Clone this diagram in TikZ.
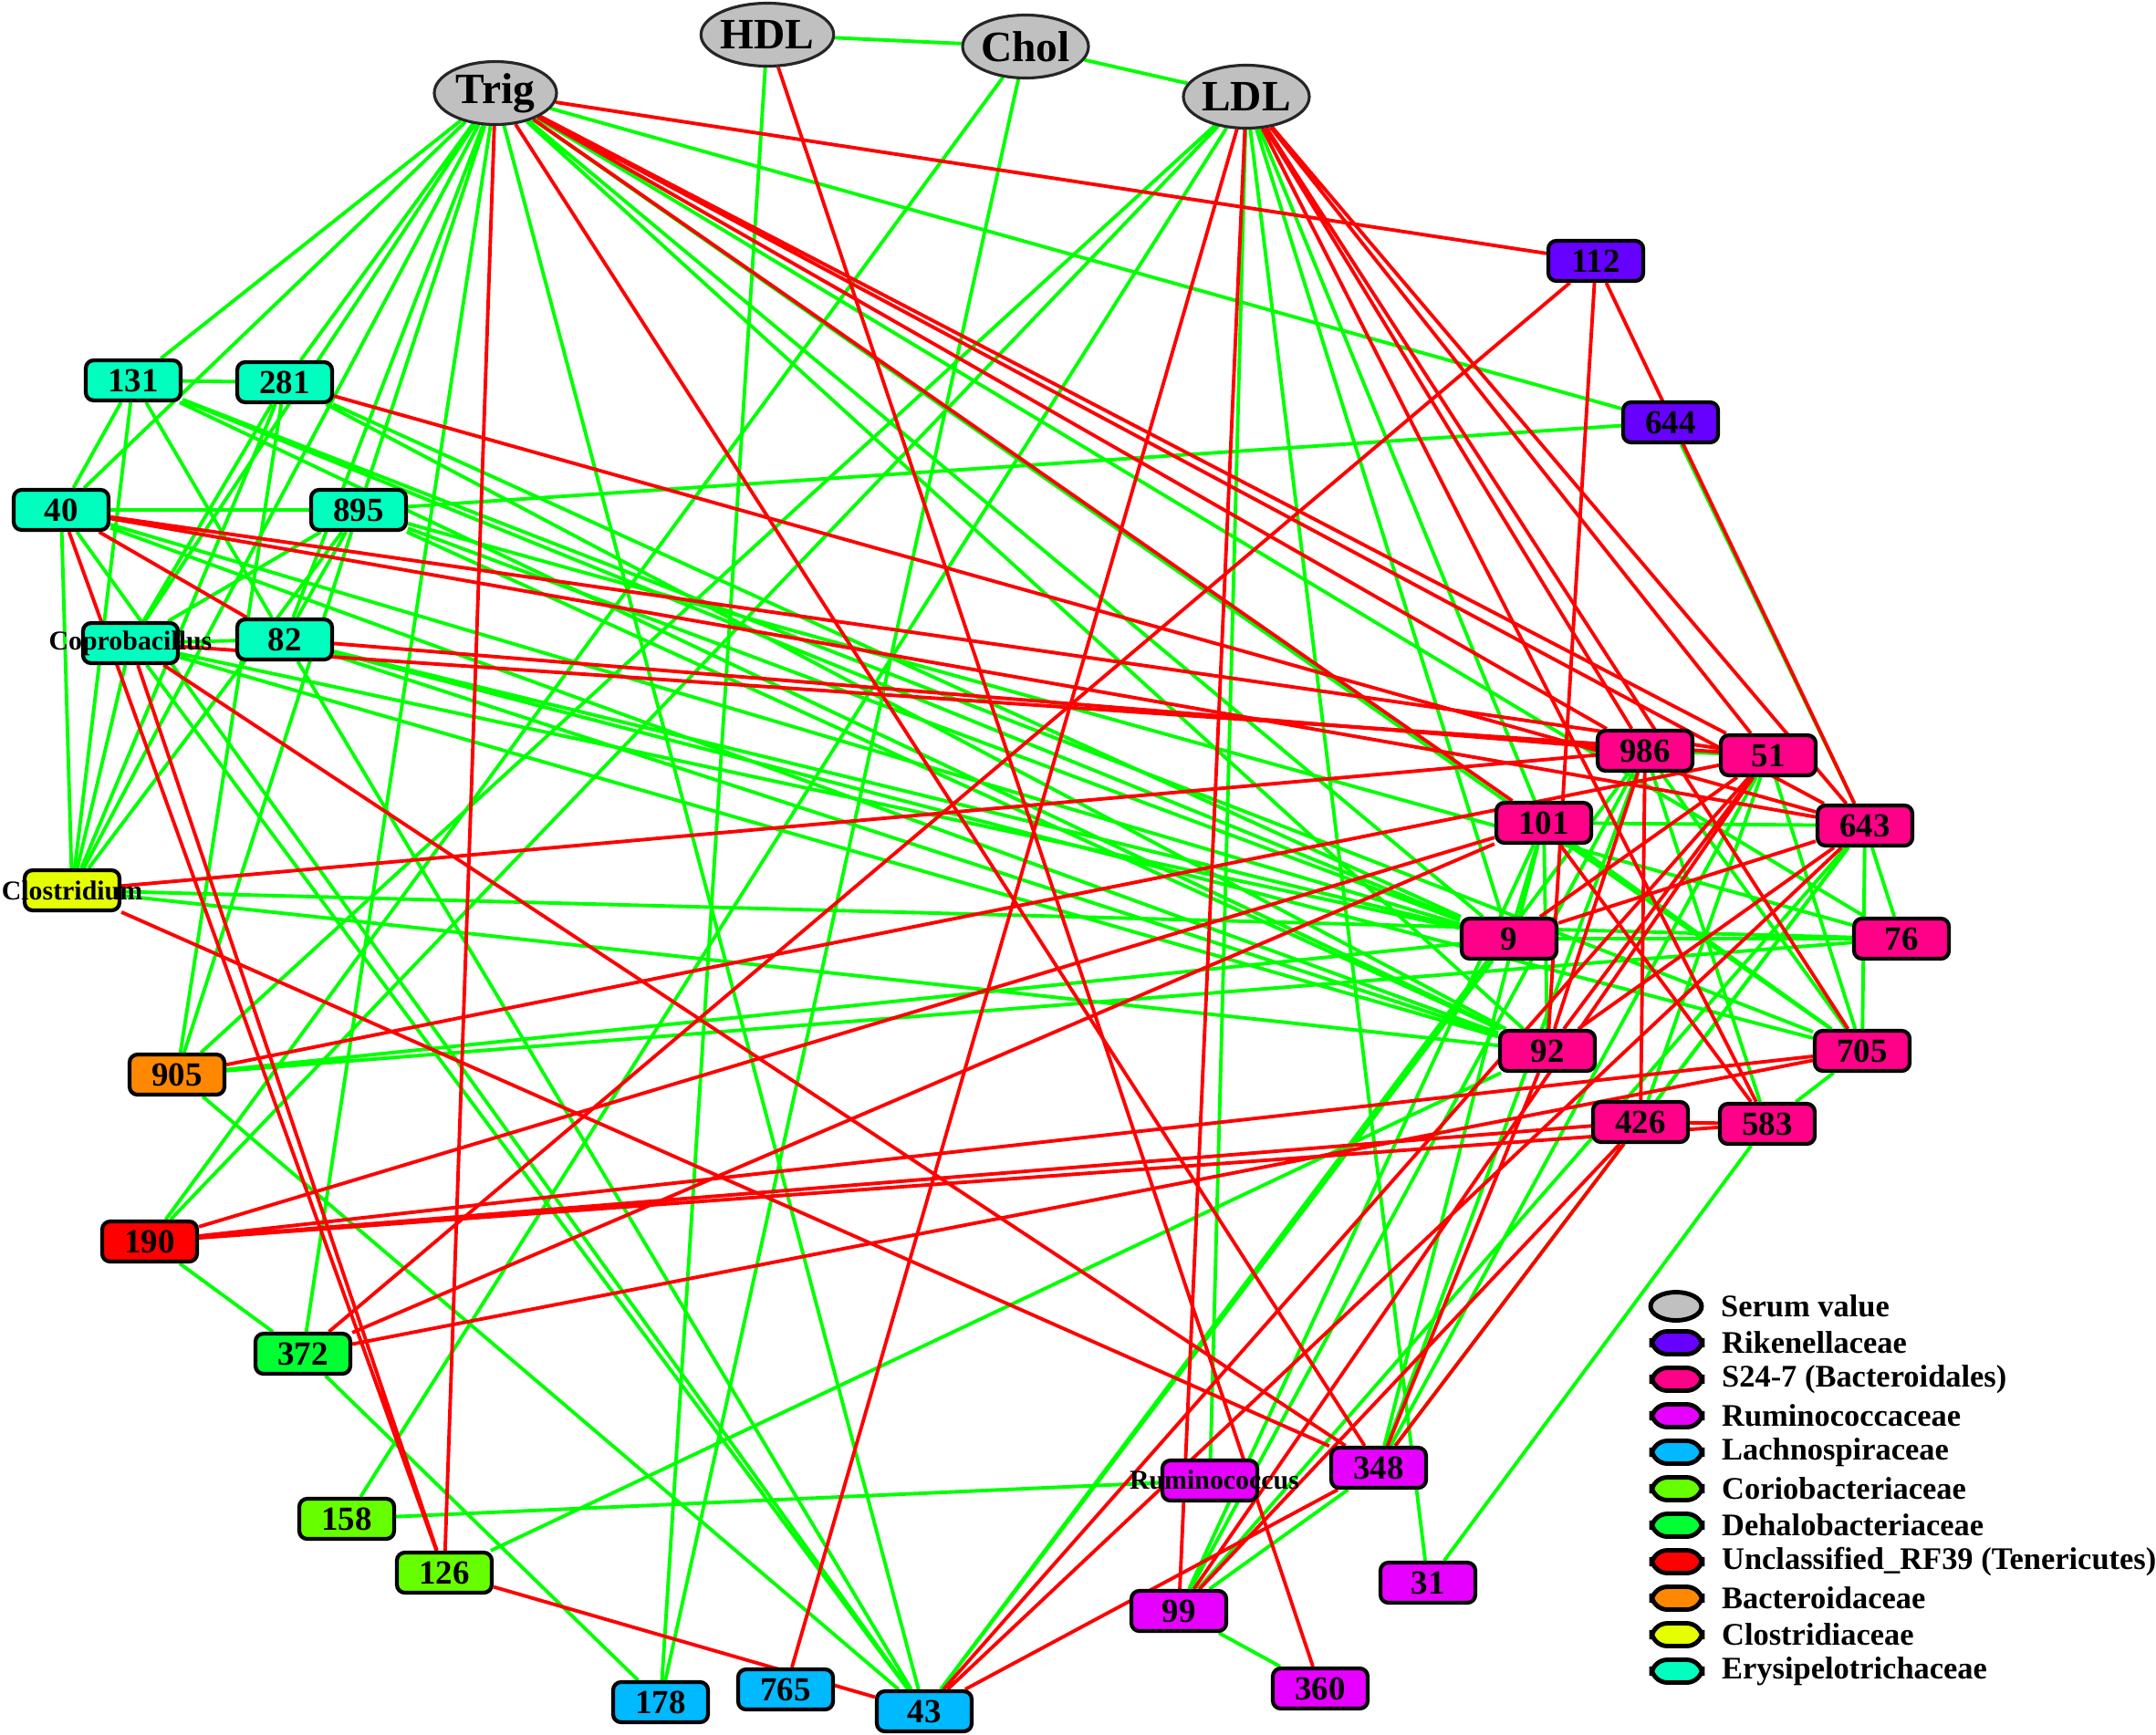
\documentclass[tikz,border=0pt]{standalone}
\usepackage{fontspec}
\setmainfont{Liberation Serif}
\usetikzlibrary{shapes.geometric,backgrounds,positioning}

\definecolor{serumgray}{RGB}{192,192,192}
\definecolor{rikc}{RGB}{102,0,255}
\definecolor{s24c}{RGB}{255,0,136}
\definecolor{rumc}{RGB}{230,0,255}
\definecolor{lachc}{RGB}{0,185,255}
\definecolor{corioc}{RGB}{102,255,0}
\definecolor{dehaloc}{RGB}{0,255,51}
\definecolor{rfc}{RGB}{255,0,0}
\definecolor{bactc}{RGB}{255,136,0}
\definecolor{closc}{RGB}{230,255,0}
\definecolor{eryc}{RGB}{0,255,191}
\definecolor{posgreen}{RGB}{0,255,0}
\definecolor{negred}{RGB}{255,0,0}

\begin{document}
\begin{tikzpicture}[
    box/.style={draw=black, line width=1.2pt, rounded corners=2.5pt, minimum width=1.04cm, minimum height=0.44cm, inner sep=0pt, font=\fontsize{10.5}{11}\selectfont\bfseries},
    serum/.style={ellipse, draw=black!85, line width=0.9pt, fill=serumgray, minimum width=1.34cm, minimum height=0.69cm, inner sep=0pt, font=\fontsize{13.5}{14}\selectfont\bfseries},
    genus/.style={inner sep=0pt, font=\fontsize{8.5}{9}\selectfont\bfseries},
    posedge/.style={draw=posgreen, line width=1.1pt},
    negedge/.style={draw=negred, line width=1.1pt},
    keybox/.style={draw=black, line width=1.4pt, rounded corners=5pt, minimum width=0.56cm, minimum height=0.25cm, inner sep=0pt},
    keytext/.style={inner sep=0pt, font=\fontsize{9.8}{10}\selectfont\bfseries}
]
    \useasboundingbox (0,0) rectangle (23.63,-19.02);

    % serum values
    \node[serum] (Trig) at (5.43,-1.02) {Trig};
    \node[serum] (HDL) at (8.41,-0.38) {HDL};
    \node[serum] (Chol) at (11.24,-0.51) {Chol};
    \node[serum] (LDL) at (13.66,-1.06) {LDL};

    % OTUs
    \node[box, fill=rikc] (o112) at (17.49,-2.86) {112};
    \node[box, fill=rikc] (o644) at (18.31,-4.63) {644};
    \node[box, fill=eryc] (o131) at (1.46,-4.17) {131};
    \node[box, fill=eryc] (o281) at (3.12,-4.19) {281};
    \node[box, fill=eryc] (o40) at (0.67,-5.59) {40};
    \node[box, fill=eryc] (o895) at (3.93,-5.59) {895};
    \node[box, fill=eryc] (copro) at (1.43,-7.05) {};
    \node[genus] (coprolab) at (copro) {Coprobacillus};
    \node[box, fill=eryc] (o82) at (3.12,-7.01) {82};
    \node[box, fill=closc] (clos) at (0.79,-9.76) {};
    \node[genus] (closlab) at (clos) {Clostridium};
    \node[box, fill=bactc] (o905) at (1.94,-11.78) {905};
    \node[box, fill=rfc] (o190) at (1.64,-13.61) {190};
    \node[box, fill=dehaloc] (o372) at (3.32,-14.84) {372};
    \node[box, fill=corioc] (o158) at (3.80,-16.65) {158};
    \node[box, fill=corioc] (o126) at (4.87,-17.24) {126};
    \node[box, fill=lachc] (o178) at (7.24,-18.66) {178};
    \node[box, fill=lachc] (o765) at (8.61,-18.52) {765};
    \node[box, fill=lachc] (o43) at (10.13,-18.76) {43};
    \node[box, fill=rumc] (rumi) at (13.26,-16.23) {};
    \node[genus] (rumilab) at (13.31,-16.22) {Ruminococcus};
    \node[box, fill=rumc] (o348) at (15.11,-16.09) {348};
    \node[box, fill=rumc] (o99) at (12.92,-17.66) {99};
    \node[box, fill=rumc] (o31) at (15.65,-17.35) {31};
    \node[box, fill=rumc] (o360) at (14.47,-18.51) {360};
    \node[box, fill=s24c] (o986) at (18.03,-8.23) {986};
    \node[box, fill=s24c] (o51) at (19.38,-8.28) {51};
    \node[box, fill=s24c] (o101) at (16.92,-9.02) {101};
    \node[box, fill=s24c] (o643) at (20.44,-9.05) {643};
    \node[box, fill=s24c] (o9) at (16.54,-10.29) {9};
    \node[box, fill=s24c] (o76) at (20.84,-10.29) {76};
    \node[box, fill=s24c] (o92) at (16.96,-11.52) {92};
    \node[box, fill=s24c] (o705) at (20.41,-11.52) {705};
    \node[box, fill=s24c] (o426) at (17.98,-12.30) {426};
    \node[box, fill=s24c] (o583) at (19.37,-12.32) {583};

    \begin{scope}[on background layer]
    % positive correlations
    \draw[posedge] (HDL) -- (Chol) (Chol) -- (LDL) (HDL) -- (o178) (Chol) -- (o190) (Chol) -- (o178);
    \draw[posedge] (LDL) -- (o158) (LDL) -- (o905) (LDL) -- (rumi) (LDL) -- (o31) (LDL) -- (o101) (LDL) -- (o9) (LDL) -- (o190);
    \draw[posedge] (Trig) -- (o131) (Trig) -- (o40) (Trig) -- (o281) (Trig) -- (copro) (Trig) -- (o895) (Trig) -- (o82) (Trig) -- (clos);
    \draw[posedge] (Trig) -- (o372) (Trig) -- (o43) (Trig) -- (o644) (Trig) -- (o76) (Trig) -- (o9) (Trig) -- (o92) (Trig) -- (o705);
    \draw[posedge] (o131) -- (o281) (o131) -- (o40) (o131) -- (clos) (o131) -- (o82) (o131) -- (o9) (o131) -- (o92) (o131) -- (o705);
    \draw[posedge] (o281) -- (copro) (o281) -- (clos) (o281) -- (o905) (o281) -- (o9) (o281) -- (o92);
    \draw[posedge] (o40) -- (o895) (o40) -- (clos) (o40) -- (o43) (o40) -- (o9) (o40) -- (o92);
    \draw[posedge] (o895) -- (o644) (o895) -- (copro) (o895) -- (o82) (o895) -- (o905) (o895) -- (clos) (o895) -- (o9) (o895) -- (o92) (o895) -- (o76);
    \draw[posedge] (copro) -- (o82) (copro) -- (o43) (copro) -- (o9) (copro) -- (o92) (copro) -- (clos);
    \draw[posedge] (o82) -- (o43) (o82) -- (o9) (o82) -- (o92) (o82) -- (o705);
    \draw[posedge] (clos) -- (o76) (clos) -- (o92) (o905) -- (o9) (o905) -- (o76) (o905) -- (o43);
    \draw[posedge] (o190) -- (o372) (o372) -- (o178) (o158) -- (rumi) (o126) -- (o92) (o43) -- (o986) (o43) -- (o9);
    \draw[posedge] (o99) -- (o360) (o99) -- (o101) (o99) -- (o986) (o99) -- (o643) (o99) -- (o348);
    \draw[posedge] (o348) -- (o101) (o348) -- (o51) (o348) -- (o643) (o348) -- (o986) (o31) -- (o583);
    \draw[posedge] (o101) -- (o643) (o101) -- (o9) (o101) -- (o92) (o101) -- (o705) (o986) -- (o51) (o986) -- (o705) (o986) -- (o583);
    \draw[posedge] (o9) -- (o76) (o643) -- (o705) (o643) -- (o76) (o643) -- (o426) (o51) -- (o705) (o51) -- (o426) (o583) -- (o705) (o644) -- (o643);
    % negative correlations
    \draw[negedge] (HDL) -- (o360) (LDL) -- (o765) (LDL) -- (o99) (LDL) -- (o986) (LDL) -- (o51) (LDL) -- (o643) (LDL) -- (o705) (LDL) -- (o583);
    \draw[negedge] (Trig) -- (o112) (Trig) -- (o986) (Trig) -- (o51) (Trig) -- (o643) (Trig) -- (o101) (Trig) -- (o348) (Trig) -- (o126);
    \draw[negedge] (o112) -- (o372) (o112) -- (o92) (o112) -- (o643) (o281) -- (o643);
    \draw[negedge] (o40) -- (o126) (o40) -- (o82) (o40) -- (o51) (o40) -- (o643) (copro) -- (o126) (copro) -- (o348) (copro) -- (o51);
    \draw[negedge] (o82) -- (o986) (clos) -- (o986) (clos) -- (o348) (o905) -- (o51);
    \draw[negedge] (o190) -- (o101) (o190) -- (o426) (o190) -- (o583) (o190) -- (o705) (o372) -- (o101) (o372) -- (o705) (o126) -- (o43);
    \draw[negedge] (o43) -- (o643) (o43) -- (o348) (o43) -- (o51) (o99) -- (o51) (o99) -- (o426) (o348) -- (o426) (o348) -- (o92);
    \draw[negedge] (o986) -- (o426) (o986) -- (o92) (o426) -- (o583) (o643) -- (o9) (o643) -- (o92) (o101) -- (o583) (o51) -- (o92) (o51) -- (o9);
    \end{scope}

    % legend
    \node[ellipse, draw=black, line width=1.4pt, fill=serumgray, minimum width=0.56cm, minimum height=0.31cm, inner sep=0pt] (kserum) at (18.37,-14.32) {};
    \node[keytext, right=0.18cm of kserum] (tserum) {Serum value};
    \node[keybox, fill=rikc] (krik) at (18.38,-14.72) {};
    \node[keytext, right=0.18cm of krik] (trik) {Rikenellaceae};
    \node[keybox, fill=s24c] (ks24) at (18.38,-15.12) {};
    \node[keytext, right=0.18cm of ks24] (ts24) {S24-7 (Bacteroidales)};
    \node[keybox, fill=rumc] (krum) at (18.38,-15.52) {};
    \node[keytext, right=0.18cm of krum] (trum) {Ruminococcaceae};
    \node[keybox, fill=lachc] (klach) at (18.38,-15.92) {};
    \node[keytext, right=0.18cm of klach] (tlach) {Lachnospiraceae};
    \node[keybox, fill=corioc] (kcorio) at (18.38,-16.32) {};
    \node[keytext, right=0.18cm of kcorio] (tcorio) {Coriobacteriaceae};
    \node[keybox, fill=dehaloc] (kdehalo) at (18.38,-16.72) {};
    \node[keytext, right=0.18cm of kdehalo] (tdehalo) {Dehalobacteriaceae};
    \node[keybox, fill=rfc] (krf) at (18.38,-17.12) {};
    \node[keytext, right=0.18cm of krf] (trf) {Unclassified\_RF39 (Tenericutes)};
    \node[keybox, fill=bactc] (kbact) at (18.38,-17.52) {};
    \node[keytext, right=0.18cm of kbact] (tbact) {Bacteroidaceae};
    \node[keybox, fill=closc] (kclos) at (18.38,-17.92) {};
    \node[keytext, right=0.18cm of kclos] (tclos) {Clostridiaceae};
    \node[keybox, fill=eryc] (kery) at (18.38,-18.32) {};
    \node[keytext, right=0.18cm of kery] (tery) {Erysipelotrichaceae};
\end{tikzpicture}
\end{document}
